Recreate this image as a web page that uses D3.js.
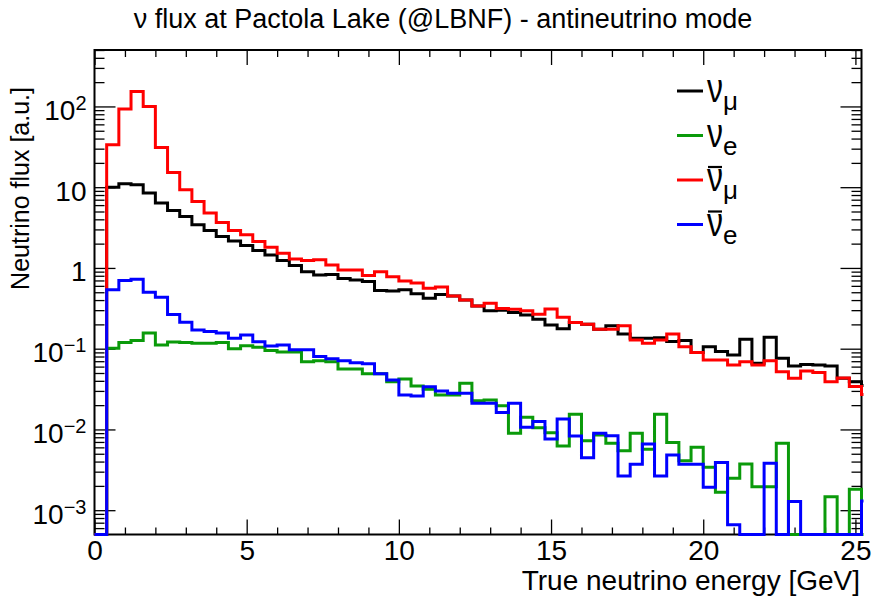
<!DOCTYPE html>
<html>
<head>
<meta charset="utf-8">
<script src="https://cdn.jsdelivr.net/npm/d3@7"></script>
<style>
  html, body { margin: 0; padding: 0; background: #fff; }
  svg { display: block; font-family: "Liberation Sans", Arial, sans-serif; }
</style>
</head>
<body>
<svg id="chart" width="872" height="598"></svg>
<script>
// Binning: 0.4 GeV bins from 0 GeV; the last entry lies just past the axis range.
const binWidth = 0.4;
const xMax = 25.2;

// Flux per bin [a.u.], bin k covers [k*0.4, (k+1)*0.4) GeV
const numu = [0, 10, 11, 10.7, 8.45, 6.35, 5.14, 4.33, 3.42, 2.9, 2.45, 2.15, 1.9, 1.64, 1.45, 1.24,
  1.07, 0.90, 0.82, 0.83, 0.74, 0.71, 0.68, 0.525, 0.52, 0.536, 0.478, 0.42, 0.47, 0.45, 0.40,
  0.339, 0.294, 0.30, 0.28, 0.262, 0.232, 0.197, 0.176, 0.211, 0.201, 0.174, 0.192, 0.152, 0.135,
  0.135, 0.1365, 0.1225, 0.126, 0.090, 0.106, 0.092, 0.0838, 0.131, 0.066, 0.1387, 0.076, 0.061,
  0.0637, 0.063, 0.061, 0.043, 0.039, 0.035];
const nue = [0, 0.101, 0.119, 0.126, 0.156, 0.111, 0.121, 0.119, 0.117, 0.117, 0.119, 0.100, 0.109,
  0.104, 0.095, 0.091, 0.091, 0.0687, 0.071, 0.069, 0.056, 0.056, 0.0488, 0.0488, 0.039, 0.042,
  0.0346, 0.0315, 0.0267, 0.0267, 0.0373, 0.0226, 0.0232, 0.0196, 0.00897, 0.01416, 0.0105, 0.0091,
  0.00624, 0.0154, 0.00726, 0.00855, 0.00675, 0.00546, 0.00897, 0.00569, 0.0154, 0.00687, 0.0041,
  0.00603, 0.0034, 0.00167, 0.00248, 0.00373, 0.00195, 0.00195, 0.00675, 0, 0, 0, 0.00147, 0,
  0.00182, 0];
const numubar = [0, 33.5, 93, 153, 100, 31, 15.2, 9.3, 6.65, 4.78, 3.66, 2.9, 2.57, 2.12, 1.81, 1.52,
  1.29, 1.24, 1.26, 1.09, 0.94, 0.94, 0.805, 0.90, 0.78, 0.69, 0.65, 0.56, 0.58, 0.45, 0.40,
  0.339, 0.366, 0.314, 0.309, 0.294, 0.267, 0.311, 0.245, 0.211, 0.201, 0.174, 0.174, 0.193, 0.1285,
  0.117, 0.1285, 0.152, 0.106, 0.090, 0.0726, 0.0726, 0.063, 0.069, 0.063, 0.071, 0.052, 0.043,
  0.0528, 0.0506, 0.039, 0.0433, 0.034, 0.027];
const nuebar = [0, 0.536, 0.70, 0.726, 0.50, 0.435, 0.265, 0.213, 0.171, 0.163, 0.156, 0.135, 0.148,
  0.122, 0.108, 0.111, 0.097, 0.097, 0.080, 0.075, 0.071, 0.067, 0.065, 0.0488, 0.041, 0.0267,
  0.026, 0.0339, 0.030, 0.028, 0.028, 0.0211, 0.0211, 0.0162, 0.0211, 0.01064, 0.0125, 0.0076,
  0.0135, 0.0083, 0.00447, 0.00897, 0.00838, 0.00265, 0.0037, 0.0066, 0.00265, 0.00482, 0.0037,
  0.0037, 0.00192, 0.00389, 0.00066, 0, 0, 0.0038, 0, 0.00128, 0, 0, 0, 0, 0, 0.0013];

const seriesNames = ["numu", "nue", "numubar", "nuebar"];
const seriesValues = [numu, nue, numubar, nuebar];
const seriesColors = ["#000000", "#0a9a0a", "#ff0000", "#0000ff"];
const seriesFlavour = ["\u03bc", "e", "\u03bc", "e"];
const seriesAnti = [false, false, true, true];

const xMajorTicks = [0, 5, 10, 15, 20, 25];
const yMajorTicks = [1e-3, 1e-2, 1e-1, 1, 10, 100];
const yTickLabels = [["10", "\u22123"], ["10", "\u22122"], ["10", "\u22121"], ["1", ""], ["10", ""], ["10", "2"]];

const titleText = "\u03bd flux at Pactola Lake (@LBNF) - antineutrino mode";
const xTitle = "True neutrino energy [GeV]";
const yTitle = "Neutrino flux [a.u.]";

// ---- geometry ----
const frameLeft = 94.5, frameRight = 861.5, frameTop = 50, frameBottom = 534.5;
const yMin = 5e-4, yMax = 500;

const svg = d3.select("#chart");
svg.append("rect").attr("width", 872).attr("height", 598).attr("fill", "#fff");

const x = d3.scaleLinear().domain([0, xMax]).range([frameLeft, frameRight]);
const y = d3.scaleLog().domain([yMin, yMax]).range([frameBottom, frameTop]);

// ---- axes ----
const xMinor = d3.range(0, 26).filter(v => v % 5 !== 0);
const yMinor = [];
for (let e = -4; e <= 2; e++) {
  for (let m = 2; m <= 9; m++) {
    const v = m * Math.pow(10, e);
    if (v >= yMin && v <= yMax) yMinor.push(v);
  }
}

function styleAxis(g) {
  g.select(".domain").remove();
  g.selectAll(".tick line").attr("stroke", "#000").attr("stroke-width", 1.3);
}

// bottom
svg.append("g").attr("transform", `translate(0,${frameBottom})`)
  .call(d3.axisBottom(x).tickValues(xMajorTicks).tickSizeInner(-15).tickSizeOuter(0).tickPadding(6)
    .tickFormat(d3.format("d")))
  .call(styleAxis)
  .call(g => g.selectAll("text").attr("font-size", 28).attr("fill", "#000")
    .attr("font-family", "Liberation Sans, Arial, sans-serif"));
svg.append("g").attr("transform", `translate(0,${frameBottom})`)
  .call(d3.axisBottom(x).tickValues(xMinor).tickSizeInner(-7).tickSizeOuter(0).tickFormat(""))
  .call(styleAxis);
// top
svg.append("g").attr("transform", `translate(0,${frameTop})`)
  .call(d3.axisTop(x).tickValues(xMajorTicks).tickSizeInner(-15).tickSizeOuter(0).tickFormat(""))
  .call(styleAxis);
svg.append("g").attr("transform", `translate(0,${frameTop})`)
  .call(d3.axisTop(x).tickValues(xMinor).tickSizeInner(-7).tickSizeOuter(0).tickFormat(""))
  .call(styleAxis);
// left
const yAxisG = svg.append("g").attr("transform", `translate(${frameLeft},0)`)
  .call(d3.axisLeft(y).tickValues(yMajorTicks).tickSizeInner(-21).tickSizeOuter(0).tickPadding(8)
    .tickFormat(""))
  .call(styleAxis);
yAxisG.selectAll(".tick text").each(function(d) {
  const t = d3.select(this).attr("font-size", 28).attr("fill", "#000")
    .attr("font-family", "Liberation Sans, Arial, sans-serif")
    .attr("dy", "0.46em");
  const lab = yTickLabels[yMajorTicks.indexOf(d)];
  t.text(null);
  t.append("tspan").text(lab[0]);
  if (lab[1]) t.append("tspan").attr("font-size", 20).attr("dy", "-10").text(lab[1]);
});
svg.append("g").attr("transform", `translate(${frameLeft},0)`)
  .call(d3.axisLeft(y).tickValues(yMinor).tickSizeInner(-10).tickSizeOuter(0).tickFormat(""))
  .call(styleAxis);
// right
svg.append("g").attr("transform", `translate(${frameRight},0)`)
  .call(d3.axisRight(y).tickValues(yMajorTicks).tickSizeInner(-21).tickSizeOuter(0).tickFormat(""))
  .call(styleAxis);
svg.append("g").attr("transform", `translate(${frameRight},0)`)
  .call(d3.axisRight(y).tickValues(yMinor).tickSizeInner(-10).tickSizeOuter(0).tickFormat(""))
  .call(styleAxis);

// frame
svg.append("rect")
  .attr("x", frameLeft).attr("y", frameTop)
  .attr("width", frameRight - frameLeft).attr("height", frameBottom - frameTop)
  .attr("fill", "none").attr("stroke", "#000").attr("stroke-width", 2);

// ---- histograms ----
svg.append("clipPath").attr("id", "plotClip")
  .append("rect").attr("x", frameLeft - 2).attr("y", frameTop)
  .attr("width", frameRight - frameLeft + 4).attr("height", frameBottom - frameTop + 2);

const yClamp = v => y(Math.max(v, yMin));
const stepLine = d3.line()
  .x(d => x(d[0]))
  .y(d => yClamp(d[1]))
  .curve(d3.curveStepAfter);

const histG = svg.append("g").attr("clip-path", "url(#plotClip)");
seriesValues.forEach((vals, si) => {
  const pts = vals.map((v, k) => [k * binWidth, v]);
  pts.push([vals.length * binWidth, vals[vals.length - 1]]);
  histG.append("path")
    .attr("class", "hist " + seriesNames[si])
    .attr("d", stepLine(pts))
    .attr("fill", "none")
    .attr("stroke", seriesColors[si])
    .attr("stroke-width", 3)
    .attr("stroke-linejoin", "miter");
});

// ---- texts ----
svg.append("text").attr("x", 443).attr("y", 28).attr("text-anchor", "middle")
  .attr("font-size", 27).attr("fill", "#000").text(titleText);

svg.append("text").attr("x", 860).attr("y", 590).attr("text-anchor", "end")
  .attr("font-size", 28).attr("fill", "#000").text(xTitle);

svg.append("text").attr("transform", "translate(29,87) rotate(-90)").attr("text-anchor", "end")
  .attr("font-size", 25).attr("fill", "#000").text(yTitle);

// ---- legend ----
const legend = svg.append("g");
seriesNames.forEach((name, i) => {
  const cy = 91 + 44.5 * i;
  legend.append("line")
    .attr("x1", 677).attr("x2", 703).attr("y1", cy).attr("y2", cy)
    .attr("stroke", seriesColors[i]).attr("stroke-width", 3);
  const base = cy + 11;
  // narrow nu glyph, as the symbol font draws it
  const nu = legend.append("text")
    .attr("transform", `translate(707,${base}) scale(0.8,1)`)
    .attr("font-size", 40).attr("fill", "#000").text("\u03bd");
  const bb = nu.node().getBBox();
  const nuLeft = 707 + bb.x * 0.8, nuRight = 707 + (bb.x + bb.width) * 0.8;
  legend.append("text").attr("x", nuRight).attr("y", base + 8)
    .attr("font-size", 26).attr("fill", "#000").text(seriesFlavour[i]);
  if (seriesAnti[i]) {
    legend.append("line")
      .attr("x1", nuLeft + 1).attr("x2", nuRight - 1)
      .attr("y1", cy - 13).attr("y2", cy - 13)
      .attr("stroke", "#000").attr("stroke-width", 2.2);
  }
});
</script>
</body>
</html>
